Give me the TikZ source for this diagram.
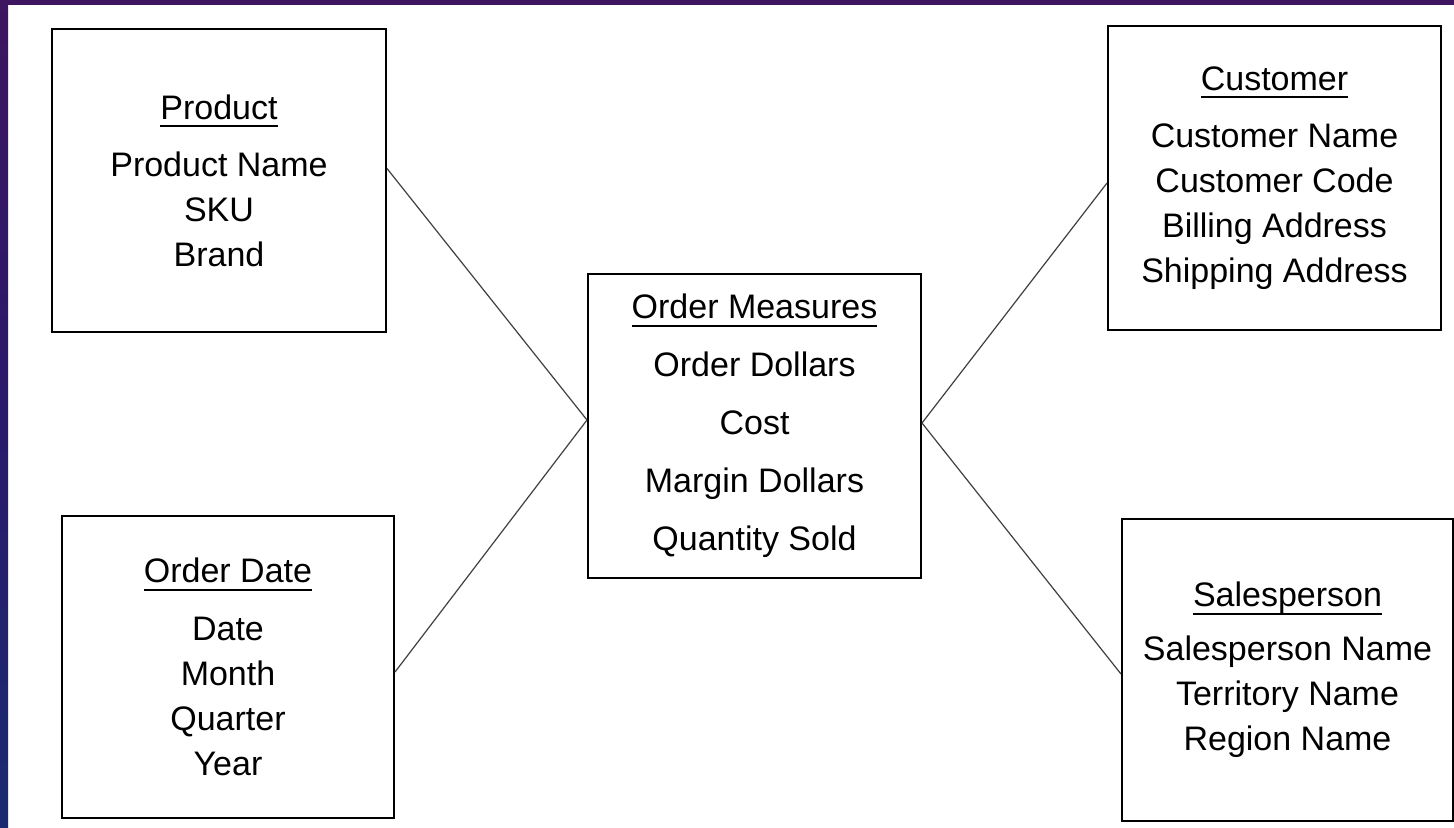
\documentclass[tikz,border=0pt]{standalone}
\usepackage{fontspec}
\setmainfont{Liberation Sans}
\newcommand\myul[1]{\setbox0\hbox{#1}\rlap{\rule[-4pt]{\wd0}{1pt}}\box0}
\definecolor{bandtop}{HTML}{3D1560}
\definecolor{bandmid}{HTML}{2A1A6A}
\definecolor{bandbot}{HTML}{1A2A70}
\begin{document}
\begin{tikzpicture}[x=0.5pt,y=-0.5pt,
  entity/.style={draw=black,line width=1pt,fill=white,align=center,inner sep=0pt,
    font=\fontsize{17}{22.5}\selectfont},
  link/.style={draw=black!75,line width=0.6pt}]
\useasboundingbox (0,0) rectangle (1454,827);
\fill[white] (0,0) rectangle (1454,827);
\shade[top color=bandtop,bottom color=bandbot,middle color=bandmid] (0,0) rectangle (8,827);
\fill[bandtop] (0,0) rectangle (1454,5);

\node[entity,minimum width=167pt,minimum height=151.5pt] (prod) at (219,180.5)
  {\myul{Product}\\[6pt]Product Name\\SKU\\Brand};
\node[entity,minimum width=166.5pt,minimum height=152pt] (cust) at (1274.5,178)
  {\myul{Customer}\\[6pt]Customer Name\\Customer Code\\Billing Address\\Shipping Address};
\node[entity,minimum width=166pt,minimum height=151pt] (date) at (228,667)
  {\myul{Order Date}\\[6.5pt]Date\\Month\\Quarter\\Year};
\node[entity,minimum width=166.5pt,minimum height=152pt,
  font=\fontsize{17}{29}\selectfont] (meas) at (754.5,426)
  {\myul{Order Measures}\\Order Dollars\\Cost\\Margin Dollars\\Quantity Sold};
\node[entity,minimum width=165.5pt,minimum height=151pt] (sales) at (1287.5,670)
  {\myul{Salesperson}\\[4.5pt]Salesperson Name\\Territory Name\\Region Name};

\draw[link] ([yshift=6pt]prod.east) -- ([yshift=3pt]meas.west);
\draw[link] ([yshift=-2.5pt]date.east) -- ([yshift=3pt]meas.west);
\draw[link] ([yshift=1.5pt]meas.east) -- ([yshift=-2.5pt]cust.west);
\draw[link] ([yshift=1.5pt]meas.east) -- ([yshift=-2pt]sales.west);
\end{tikzpicture}
\end{document}
